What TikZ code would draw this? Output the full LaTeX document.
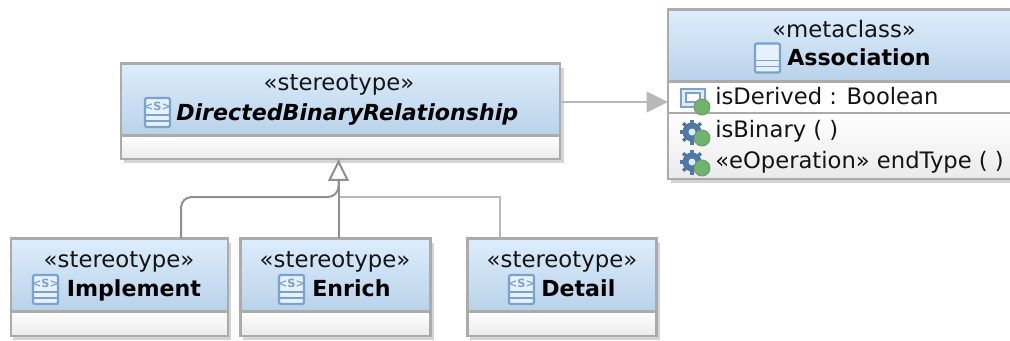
\documentclass[tikz,border=0pt]{standalone}
\usepackage{fontspec}
\setmainfont{DejaVu Sans}
\usetikzlibrary{arrows.meta}
\definecolor{hdtop}{HTML}{DDEDFC}
\definecolor{hdbot}{HTML}{B9D2E9}
\definecolor{edgeg}{HTML}{ABABAB}
\definecolor{conn}{HTML}{8F8F8F}
\definecolor{connl}{HTML}{B8B8B8}
\definecolor{iconb}{HTML}{7AA2CB}
\definecolor{gearb}{HTML}{4F78A8}
\definecolor{ballg}{HTML}{6DB56D}
\tikzset{
  x=0.75pt,y=-0.75pt,
  header/.style={draw=edgeg,line width=1.6pt,rectangle,inner sep=0pt,outer sep=0pt,top color=hdtop,bottom color=hdbot,anchor=north west},
  compart/.style={draw=edgeg,line width=1.6pt,rectangle,inner sep=0pt,outer sep=0pt,top color=white,bottom color=black!8,anchor=north west},
  plainpart/.style={draw=edgeg,line width=1pt,rectangle,inner sep=0pt,outer sep=0pt,fill=white,anchor=north west},
  shadowbox/.style={fill=black!17,draw=none,rectangle,inner sep=0pt,outer sep=0pt,anchor=north west},
  stereo/.style={font=\fontsize{17.1pt}{18pt}\selectfont,text=black!92,inner sep=0pt,anchor=base},
  cname/.style={font=\fontsize{16.6pt}{18pt}\selectfont\bfseries,text=black,inner sep=0pt,anchor=base west},
  member/.style={font=\fontsize{17pt}{18pt}\selectfont,text=black!92,inner sep=0pt,anchor=base west},
  link/.style={conn,line width=1.5pt},
}
\newcommand{\classicon}[3]{%
  \begin{scope}[shift={(#1,#2)}]
    \fill[hdtop!75!white,draw=iconb,line width=1.7pt,rounded corners=1.5pt] (0,0) rectangle (25,29);
    \draw[iconb,line width=1.2pt] (0,17) -- (25,17) (0,23) -- (25,23);
    \ifnum#3=1
      \node[inner sep=0pt,text=iconb,font=\fontsize{8.5pt}{8.5pt}\selectfont\bfseries] (iconmark#1) at (12.5,8.5) {<S>};
    \fi
  \end{scope}}
\newcommand{\greenball}[2]{%
  \fill[ballg,draw=green!25!black!55,line width=0.7pt] (#1,#2) circle (8);}
\newcommand{\gearicon}[2]{%
  \begin{scope}[shift={(#1,#2)}]
    \foreach \a in {0,45,...,315}{\draw[gearb,line width=2.6pt] (0,0) -- ++(\a:12.5);}
    \fill[gearb] (0,0) circle (9.5);
    \fill[hdtop] (0,0) circle (3.5);
  \end{scope}
  \greenball{#1+10}{#2+6}}
\newcommand{\attricon}[2]{%
  \begin{scope}[shift={(#1,#2)}]
    \fill[hdtop,draw=iconb,line width=1.4pt] (0,0) rectangle (24,18);
    \fill[white,draw=iconb,line width=1pt] (5,4) rectangle (19,13);
  \end{scope}
  \greenball{#1+21}{#2+18}}
\begin{document}
\begin{tikzpicture}
\useasboundingbox (0,0) rectangle (1010,340);
% shadows
\node[shadowbox,minimum width=440*0.75pt,minimum height=95*0.75pt] (dbrs) at (124,68) {};
\node[shadowbox,minimum width=343*0.75pt,minimum height=169*0.75pt] (assocs) at (671,14) {};
\node[shadowbox,minimum width=218*0.75pt,minimum height=97*0.75pt] (impls) at (13,243) {};
\node[shadowbox,minimum width=191*0.75pt,minimum height=97*0.75pt] (enrichs) at (243,243) {};
\node[shadowbox,minimum width=190*0.75pt,minimum height=97*0.75pt] (details) at (470,243) {};
% DirectedBinaryRelationship
\node[compart,minimum width=439*0.75pt,minimum height=24*0.75pt] (dbrc) at (121,135) {};
\node[header,minimum width=439*0.75pt,minimum height=72*0.75pt] (dbr) at (121,63.5) {};
\node[stereo] (dbrst) at (339,90) {«stereotype»};
\classicon{145}{98}{1}
\node[cname,font=\fontsize{16.6pt}{18pt}\selectfont\bfseries\itshape] (dbrn) at (176,120) {DirectedBinaryRelationship};
% Association
\node[compart,minimum width=348*0.75pt,minimum height=66*0.75pt] (assocop) at (668,113) {};
\node[plainpart,minimum width=348*0.75pt,minimum height=32*0.75pt] (assocat) at (668,81) {};
\node[header,minimum width=348*0.75pt,minimum height=72*0.75pt] (assoc) at (668,9.5) {};
\node[stereo] (assocst) at (844,37) {«metaclass»};
\classicon{755}{43.5}{0}
\node[cname] (assocn) at (787,65) {Association};
\attricon{681}{89}
\node[member] (m1) at (715,104) {isDerived : Boolean};
\gearicon{692}{132}
\node[member] (m2) at (715,137) {isBinary ( )};
\gearicon{692}{162}
\node[member] (m3) at (715,168) {«eOperation» endType ( )};
% Implement
\node[compart,minimum width=217*0.75pt,minimum height=25*0.75pt] (implc) at (11,311) {};
\node[header,minimum width=217*0.75pt,minimum height=73*0.75pt] (impl) at (11,238.5) {};
\node[stereo] (implst) at (119,267) {«stereotype»};
\classicon{33}{275}{1}
\node[cname] (impln) at (66.5,296) {Implement};
% Enrich
\node[compart,minimum width=190*0.75pt,minimum height=25*0.75pt] (enrichc) at (240.5,311) {};
\node[header,minimum width=190*0.75pt,minimum height=73*0.75pt] (enrich) at (240.5,238.5) {};
\node[stereo] (enrichst) at (335,267) {«stereotype»};
\classicon{279}{275}{1}
\node[cname] (enrichn) at (312,296) {Enrich};
% Detail
\node[compart,minimum width=189*0.75pt,minimum height=25*0.75pt] (detailc) at (467.5,311) {};
\node[header,minimum width=189*0.75pt,minimum height=73*0.75pt] (detail) at (467.5,238.5) {};
\node[stereo] (detailst) at (562,267) {«stereotype»};
\classicon{509}{275}{1}
\node[cname] (detailn) at (541,296) {Detail};
% connector anchors
\coordinate (tip) at (338.5,159.5);
\coordinate (elbow) at (338.5,197);
\coordinate (implt) at (181,238);
\coordinate (enricht) at (338.5,238);
\coordinate (detailt) at (500,238);
% connectors
\draw[connl,line width=1.1pt] (detailt) -- (detailt |- elbow) -- (elbow);
\draw[link,rounded corners=8pt] (implt) -- (implt |- elbow) -- (elbow) -- (tip);
\draw[link,-{Triangle[open,length=16pt,width=15.5pt,line width=1.5pt,fill=white]}] (enricht) -- (tip);
\draw[connl,line width=1.4pt,-{Triangle[length=16pt,width=15.5pt]}] (dbr.east |- 0,102) -- (assoc.west |- 0,102);
\end{tikzpicture}
\end{document}
